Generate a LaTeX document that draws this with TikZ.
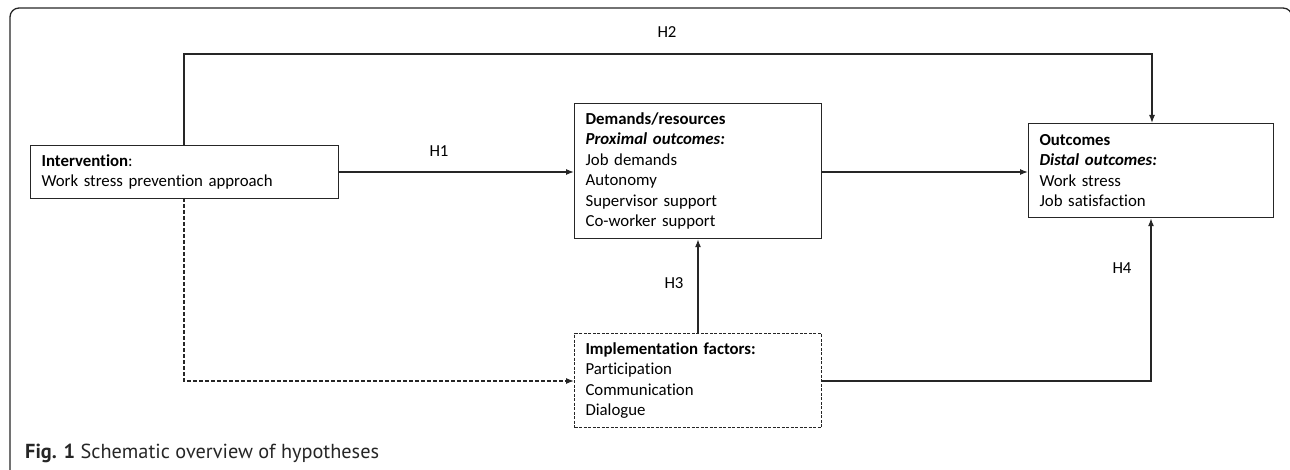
\documentclass[tikz,border=0pt]{standalone}
\usepackage{fontspec}
\setmainfont[Ligatures=NoCommon]{Carlito}
\newfontfamily\capfont{PT Sans}
\usetikzlibrary{arrows.meta}
\begin{document}
\begin{tikzpicture}[x=1pt,y=-1pt,
  box/.style={draw=black!85, line width=1.2pt, rectangle, align=left, inner xsep=11pt, inner ysep=0pt,
    font=\fontsize{16.8}{20.5}\selectfont, anchor=north west},
  conn/.style={draw=black!85, line width=1.3pt, -{Latex[length=8pt,width=6pt]}},
  lbl/.style={font=\fontsize{16.8}{18}\selectfont, inner sep=0pt}
]
\useasboundingbox (0,0) rectangle (1290,470);
\begin{scope}
\clip (0,0) rectangle (1290,470);
\draw[black!85, line width=1.3pt, rounded corners=9pt] (10,8) rectangle (1292,490);
\end{scope}

\node[box, text width=286pt, minimum height=53pt] (int) at (30,145)
  {\textbf{Intervention}:\\Work stress prevention approach};
\node[box, text width=225pt, minimum height=135pt] (dem) at (574,103)
  {\textbf{Demands/resources}\\\textbf{\textit{Proximal outcomes:}}\\Job demands\\Autonomy\\Supervisor support\\Co-worker support};
\node[box, text width=223pt, minimum height=94pt] (out) at (1028,123)
  {\textbf{Outcomes}\\\textbf{\textit{Distal outcomes:}}\\Work stress\\Job satisfaction};
\node[box, dash pattern=on 3pt off 1.5pt, line width=1pt, text width=225pt, minimum height=94pt] (imp) at (574,333)
  {\textbf{Implementation factors:}\\Participation\\Communication\\Dialogue};

\coordinate (a1) at (184,145);
\coordinate (a2) at (184,54);
\coordinate (a3) at (1152,54);
\coordinate (a4) at (1152,123);
\draw[conn] (a1) -- (a2) -- (a3) -- (a4);

\draw[conn] (int.east |- 0,172) -- (dem.west |- 0,172);
\draw[conn] (dem.east |- 0,172) -- (out.west |- 0,172);

\coordinate (d1) at (184,198);
\coordinate (d2) at (184,381);
\draw[conn, dash pattern=on 4pt off 2pt] (d1) -- (d2) -- (imp.west |- d2);

\coordinate (h3) at (698,333);
\draw[conn] (h3) -- (h3 |- dem.south);

\coordinate (i1) at (821,381);
\coordinate (i2) at (1151,381);
\draw[conn] (imp.east |- i1) -- (i2) -- (i2 |- out.south);

\node[lbl] (H1) at (439,151) {H1};
\node[lbl] (H2) at (667,32) {H2};
\node[lbl] (H3) at (674,283) {H3};
\node[lbl] (H4) at (1122,268) {H4};

\node[anchor=west, inner sep=0pt, font=\capfont\fontsize{20.3}{22}\selectfont, text=black!85] (cap) at (25,453)
  {\textbf{Fig. 1} Schematic overview of hypotheses};
\end{tikzpicture}
\end{document}
